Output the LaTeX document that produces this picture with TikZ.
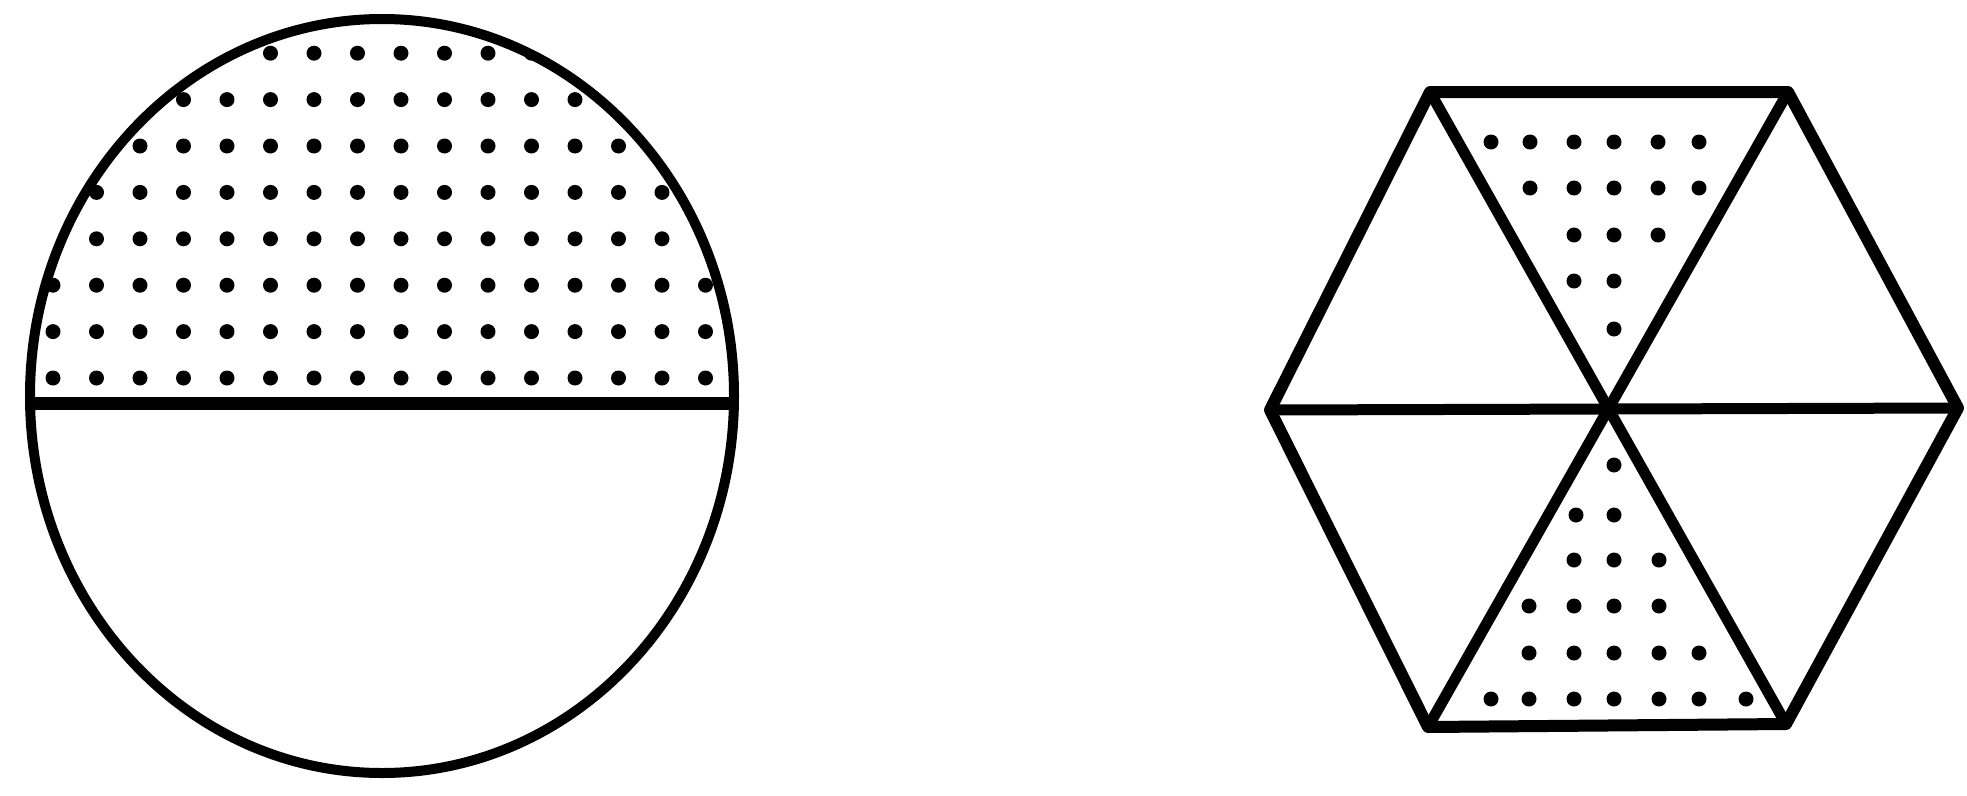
\documentclass[tikz,border=0pt]{standalone}
\begin{document}
\begin{tikzpicture}[x=1pt,y=-1pt,line join=round,
  rim/.style={line width=10pt},
  bar/.style={line width=13pt},
  hexedge/.style={line width=12pt},
  spoke/.style={line width=11pt}]
\useasboundingbox[fill=white] (0,0) rectangle (1967,795);
% ---- circle with dotted upper half ----
\coordinate (O) at (382,396);
\begin{scope}
  \clip (O) ellipse [x radius=352, y radius=377];
  \foreach \j in {0,...,7}
    \foreach \k in {0,...,15}
      \fill (53+43.5*\k, 378-46.4*\j) circle [radius=7.5];
\end{scope}
\draw[rim] (O) ellipse [x radius=352, y radius=377];
\coordinate (cl) at (30,403);
\coordinate (cr) at (734,403);
\draw[bar] (cl) -- (cr);
% ---- hexagon ----
\coordinate (TL) at (1430,92);
\coordinate (TR) at (1788,92);
\coordinate (R)  at (1958,408);
\coordinate (BR) at (1786,724);
\coordinate (BL) at (1428,727);
\coordinate (L)  at (1270,410);
% dots, upper triangle
\foreach \x/\y in {1491/142,1530/142,1574/142,1614/142,1658/142,1699/142,
                   1530/188,1574/188,1614/188,1658/188,1699/188,
                   1574/235,1614/235,1658/235,
                   1574/281,1614/281,
                   1614/329}
  \fill (\x,\y) circle [radius=7.5];
% dots, lower triangle
\foreach \x/\y in {1614/465,
                   1576/515,1614/515,
                   1574/560,1614/560,1659/560,
                   1529/606,1574/606,1614/606,1659/606,
                   1529/653,1574/653,1614/653,1659/653,1699/653,
                   1491/699,1529/699,1574/699,1614/699,1659/699,1699/699,1746/699}
  \fill (\x,\y) circle [radius=7.5];
\draw[hexedge] (TL) -- (TR) -- (R) -- (BR) -- (BL) -- (L) -- cycle;
\draw[spoke] (TL) -- (BR);
\draw[spoke] (TR) -- (BL);
\draw[spoke] (L) -- (R);
\end{tikzpicture}
\end{document}
